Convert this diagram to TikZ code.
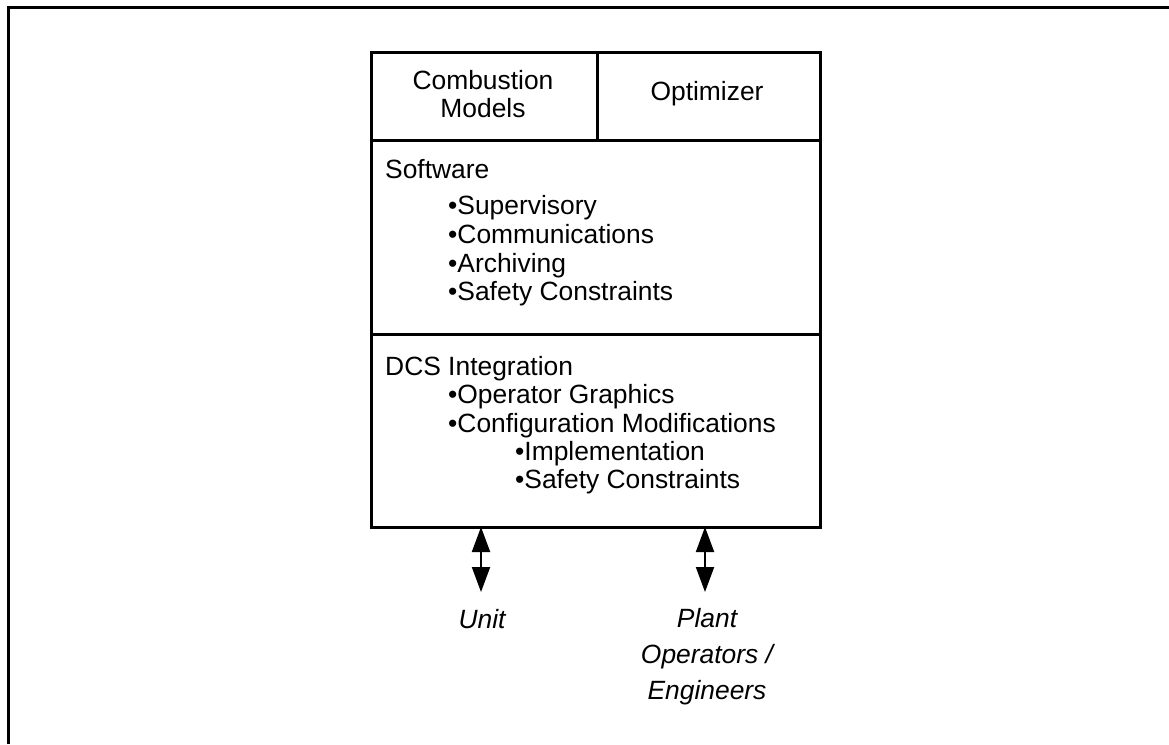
\documentclass[tikz,border=0pt]{standalone}
\usepackage{fontspec}
\setmainfont{Liberation Sans}
\usetikzlibrary{arrows.meta}
\begin{document}
\begin{tikzpicture}[x=1pt,y=-1pt,
  cell/.style={draw=black,line width=2.5pt,inner sep=0pt,anchor=north west},
  txt/.style={font=\fontsize{26.4}{28}\selectfont,inner sep=0pt},
  itx/.style={font=\fontsize{26.4}{36}\selectfont\itshape,inner sep=0pt,align=center},
  dbl/.style={line width=2pt,{Triangle[length=25pt,width=18pt]}-{Triangle[length=25pt,width=18pt]}}]
\useasboundingbox (0,0) rectangle (1169,744);
% outer frame (top and left edges)
\draw[line width=3pt] (8,744) -- (8,7) -- (1169,7);
% cells
\node[cell,minimum width=226pt,minimum height=88pt] (cm) at (370,51) {};
\node[cell,minimum width=223pt,minimum height=88pt] (op) at (596,51) {};
\node[cell,minimum width=449pt,minimum height=194pt] (sw) at (370,139) {};
\node[cell,minimum width=449pt,minimum height=193pt] (dcs) at (370,333) {};
% top cell texts
\node[txt,align=center,anchor=base] (cmt) at (483,117) {Combustion\\Models};
\node[txt,anchor=base] (opt) at (707,100) {Optimizer};
% software
\node[txt,anchor=base west] (s0) at (385,178) {Software};
\node[txt,anchor=base west] (s1) at (448,214) {•Supervisory};
\node[txt,anchor=base west] (s2) at (448,243) {•Communications};
\node[txt,anchor=base west] (s3) at (448,272) {•Archiving};
\node[txt,anchor=base west] (s4) at (448,300) {•Safety Constraints};
% DCS
\node[txt,anchor=base west] (d0) at (385,375) {DCS Integration};
\node[txt,anchor=base west] (d1) at (448,403) {•Operator Graphics};
\node[txt,anchor=base west] (d2) at (448,432) {•Configuration Modifications};
\node[txt,anchor=base west] (d3) at (515,460) {•Implementation};
\node[txt,anchor=base west] (d4) at (515,488) {•Safety Constraints};
% arrows
\coordinate (a1t) at (481,527);
\coordinate (a1b) at (481,592);
\coordinate (a2t) at (705,527);
\coordinate (a2b) at (705,592);
\draw[dbl] (a1t) -- (a1b);
\draw[dbl] (a2t) -- (a2b);
% labels
\node[itx,anchor=base] (unit) at (482,628) {Unit};
\node[itx,anchor=base] (plant) at (707,699) {Plant\\Operators /\\Engineers};
\end{tikzpicture}
\end{document}
